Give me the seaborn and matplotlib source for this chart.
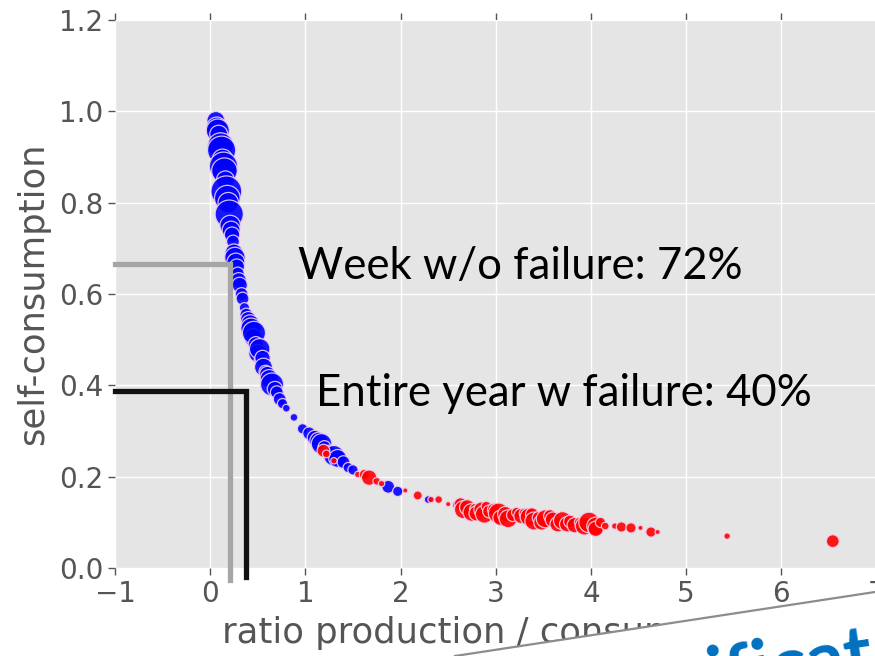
import matplotlib
matplotlib.use("Agg")
import matplotlib.pyplot as plt
import numpy as np
import pandas as pd
import seaborn as sns
from matplotlib.patches import Polygon
from matplotlib.lines import Line2D

# ------------------------------------------------------------------------------
# Data
# ------------------------------------------------------------------------------
# points with no failure (blue)
blue_ratio = [0.06, 0.07, 0.08, 0.09, 0.10, 0.11, 0.12, 0.13, 0.14, 0.15,
              0.16, 0.17, 0.18, 0.19, 0.20, 0.21, 0.22, 0.23, 0.24, 0.25,
              0.26, 0.27, 0.28, 0.29, 0.30, 0.31, 0.33, 0.34, 0.36, 0.38,
              0.40, 0.42, 0.43, 0.45, 0.46, 0.48, 0.50, 0.52, 0.53, 0.55,
              0.56, 0.58, 0.60, 0.62, 0.65, 0.68, 0.70, 0.73, 0.76, 0.80,
              0.88, 0.97, 1.04, 1.10, 1.14, 1.17, 1.20, 1.25, 1.30, 1.34,
              1.40, 1.45, 1.50, 1.87, 1.97, 2.29, 2.74, 2.94, 3.31, 3.65]
blue_self = [0.980, 0.965, 0.958, 0.950, 0.935, 0.925, 0.915, 0.895, 0.880, 0.870,
             0.850, 0.825, 0.810, 0.800, 0.775, 0.750, 0.740, 0.730, 0.715, 0.690,
             0.680, 0.670, 0.660, 0.645, 0.630, 0.620, 0.600, 0.590, 0.570, 0.555,
             0.545, 0.535, 0.525, 0.505, 0.515, 0.490, 0.470, 0.480, 0.455, 0.460,
             0.440, 0.430, 0.425, 0.415, 0.402, 0.392, 0.385, 0.370, 0.360, 0.350,
             0.330, 0.305, 0.295, 0.285, 0.278, 0.272, 0.265, 0.255, 0.246, 0.240,
             0.232, 0.220, 0.215, 0.178, 0.168, 0.150, 0.130, 0.122, 0.112, 0.100]
blue_weight = [14, 16, 18, 14, 12, 20, 22, 16, 22, 20,
               14, 24, 20, 16, 22, 16, 14, 12, 10, 14,
               16, 14, 12, 10, 12, 12, 10, 10, 8, 10,
               12, 14, 16, 14, 18, 12, 14, 16, 10, 12,
               14, 10, 12, 14, 18, 12, 10, 10, 8, 6,
               6, 8, 10, 12, 14, 16, 10, 10, 16, 14,
               10, 8, 8, 10, 8, 6, 5, 4, 5, 4]

# points with failure (red)
red_ratio = [1.19, 1.22, 1.30, 1.55, 1.62, 1.67, 1.75, 1.80, 2.05, 2.18,
             2.32, 2.40, 2.50, 2.60, 2.63, 2.66, 2.70, 2.75, 2.78, 2.80,
             2.85, 2.88, 2.90, 2.93, 2.98, 3.03, 3.05, 3.10, 3.13, 3.18,
             3.22, 3.27, 3.30, 3.35, 3.38, 3.40, 3.45, 3.48, 3.52, 3.57,
             3.60, 3.65, 3.70, 3.75, 3.78, 3.83, 3.88, 3.93, 3.98, 4.05,
             4.05, 4.10, 4.15, 4.25, 4.32, 4.42, 4.52, 4.63, 4.70, 5.43,
             6.54]
red_self = [0.257, 0.250, 0.235, 0.205, 0.205, 0.198, 0.190, 0.185, 0.170, 0.159,
            0.150, 0.150, 0.140, 0.138, 0.140, 0.128, 0.133, 0.122, 0.130, 0.120,
            0.128, 0.118, 0.135, 0.124, 0.128, 0.120, 0.110, 0.118, 0.108, 0.116,
            0.122, 0.114, 0.120, 0.112, 0.118, 0.103, 0.110, 0.100, 0.108, 0.114,
            0.106, 0.096, 0.104, 0.096, 0.102, 0.094, 0.100, 0.092, 0.100, 0.092,
            0.086, 0.100, 0.092, 0.092, 0.090, 0.088, 0.088, 0.079, 0.079, 0.070,
            0.059]
red_weight = [10, 6, 5, 5, 8, 12, 6, 5, 4, 7,
              5, 6, 4, 8, 10, 14, 12, 14, 8, 12,
              12, 14, 8, 10, 10, 16, 12, 12, 14, 10,
              8, 12, 8, 14, 10, 14, 10, 12, 14, 10,
              12, 12, 14, 12, 10, 12, 8, 14, 16, 14,
              12, 8, 6, 5, 8, 8, 4, 8, 4, 5,
              10]

week_corner = (0.21, 0.665)
year_corner = (0.38, 0.387)

# ------------------------------------------------------------------------------
# Style
# ------------------------------------------------------------------------------
plt.style.use("ggplot")
plt.rcParams["font.family"] = ["DejaVu Sans"]

df = pd.DataFrame({
    "ratio": blue_ratio + red_ratio,
    "self_consumption": blue_self + red_self,
    "weight": np.array(blue_weight + red_weight, dtype=float) ** 2,
    "failure": ["no"] * len(blue_ratio) + ["yes"] * len(red_ratio),
})

fig = plt.figure(figsize=(8.75, 6.56), dpi=100)
fig.patch.set_facecolor("white")
ax = fig.add_axes([0.1314, 0.134, 0.8704, 0.8355])
ax.set_facecolor("#E5E5E5")

sns.scatterplot(
    data=df, x="ratio", y="self_consumption", hue="failure", size="weight",
    palette={"no": "#0000FF", "yes": "#FF0000"},
    sizes=(0.85 * 16, 0.85 * 576), size_norm=(16, 576),
    edgecolor="#F0D0F0", linewidth=0.9, alpha=0.9, legend=False, ax=ax, zorder=2,
)

ax.set_xlim(-1, 7)
ax.set_ylim(0, 1.2)
ax.set_xticks(range(-1, 8))
ax.set_yticks(np.arange(0, 1.21, 0.2))
ax.set_yticklabels([f"{v:.1f}" for v in np.arange(0, 1.21, 0.2)])
ax.grid(True, color="white", linewidth=1.0)
for sp in ax.spines.values():
    sp.set_visible(False)
ax.tick_params(direction="out", top=True, right=True, colors="#555555",
               labelsize=20, length=5, width=1)
ax.set_xlabel("ratio production / consumption", fontsize=25.5, color="#555555", labelpad=6)
ax.set_ylabel("self-consumption", fontsize=25.5, color="#555555", labelpad=6)

# marker lines for the two scenarios
gx, gy = week_corner
ax.plot([-1, gx, gx], [gy, gy, -0.026], color="#A6A6A6", lw=3.8,
        solid_joinstyle="miter", clip_on=False, zorder=3)
bx, by = year_corner
ax.plot([-1, bx, bx], [by, by, -0.02], color="#111111", lw=3.8,
        solid_joinstyle="miter", clip_on=False, zorder=3)

ax.text(0.92, 0.66, "Week w/o failure: 72%", fontsize=31.5, family="Lato",
        color="black", va="center", ha="left", zorder=4)
ax.text(1.11, 0.383, "Entire year w failure: 40%", fontsize=31.5, family="Lato",
        color="black", va="center", ha="left", zorder=4)

# slide overlay in the bottom right corner
x0, y1 = 455 / 875, 1 - 592 / 656
fig.patches.append(Polygon([(x0, 0), (1.0, y1), (1.0, 0)], closed=True,
                           transform=fig.transFigure, facecolor="white",
                           edgecolor="none", zorder=5))
fig.lines.append(Line2D([x0, 1.0], [0, y1], transform=fig.transFigure,
                        color="#8C8C8C", lw=1.6, zorder=6))
fig.text(0.812, -0.068, "ificat", fontsize=54, family="Lato", fontweight="bold",
         color="#0070C0", rotation=8.7, rotation_mode="anchor",
         ha="left", va="baseline", zorder=7)

fig.savefig("out.png", dpi=100)
